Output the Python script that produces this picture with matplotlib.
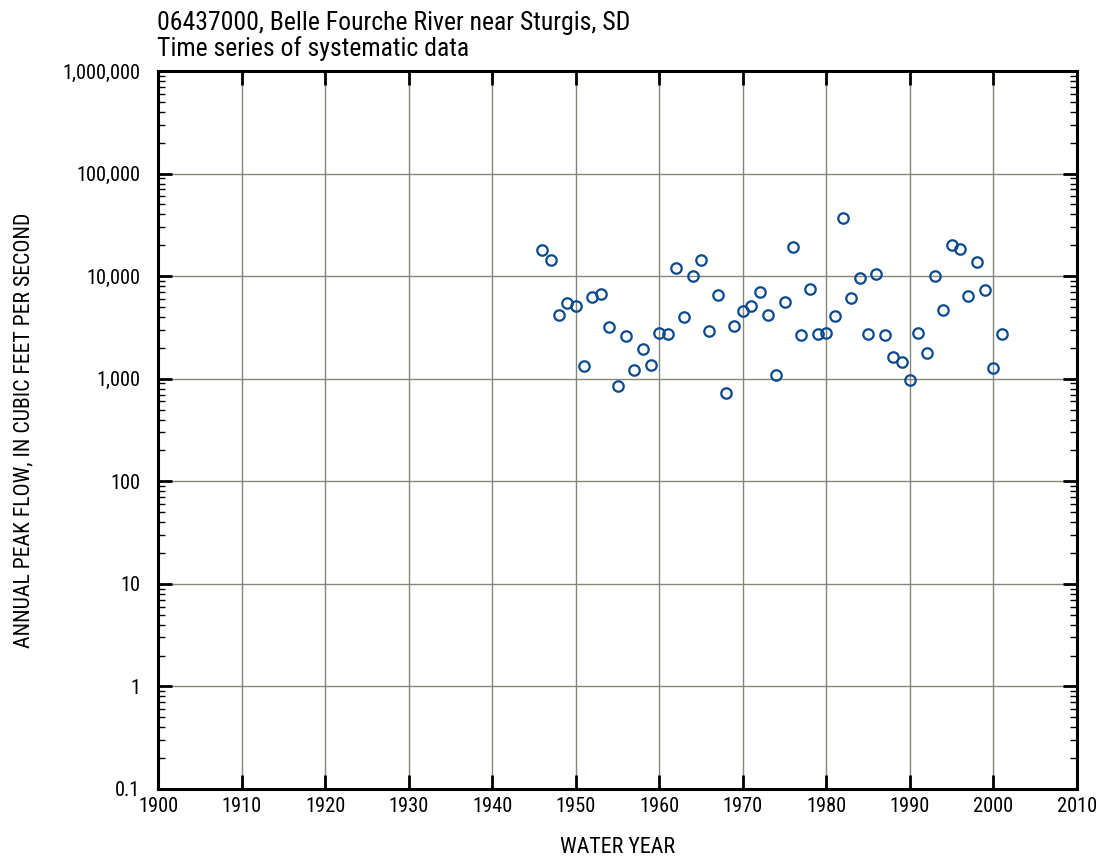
import numpy as np
import matplotlib
matplotlib.use('Agg')
import matplotlib.pyplot as plt
from matplotlib import font_manager
from matplotlib.ticker import FixedLocator, LogLocator, NullFormatter

# pick a narrow family if one is there
names = {f.name for f in font_manager.fontManager.ttflist}
fam = [n for n in ['Roboto Condensed', 'Liberation Sans Narrow', 'Roboto', 'Liberation Sans'] if n in names]
plt.rcParams['font.family'] = fam[:1] + ['DejaVu Sans']

# annual peak flow, cfs
years = list(range(1946, 2002))
peaks = [18000, 14500, 4220, 5520, 5150, 1325, 6270, 6670, 3180, 845,
         2600, 1220, 1950, 1370, 2770, 2720, 11900, 4000, 10100, 14500,
         2900, 6520, 723, 3300, 4620, 5150, 7070, 4160, 1097, 5640,
         19300, 2690, 7500, 2740, 2810, 4120, 36600, 6100, 9550, 2750,
         10430, 2680, 1620, 1470, 973, 2810, 1780, 9980, 4710, 20270,
         18400, 6460, 13750, 7400, 1265, 2750]
ytick_vals = [0.1, 1, 10, 100, 1000, 10000, 100000, 1000000]
ytick_labels = ['0.1', '1', '10', '100', '1,000', '10,000', '100,000', '1,000,000']
xtick_vals = list(range(1900, 2011, 10))

fig = plt.figure(figsize=(11.02, 8.56), dpi=100)
ax = fig.add_axes([0.1434, 0.0783, 0.8339, 0.8387])

ax.plot(years, peaks, 'o', mfc='none', mec='#0b4a8f', ms=7.5, mew=1.6, zorder=3)

ax.set_yscale('log')
ax.set_xlim(1900, 2010)
ax.set_ylim(0.1, 1e6)
ax.set_xticks(xtick_vals)
ax.set_yticks(ytick_vals)
ax.set_yticklabels(ytick_labels)
ax.yaxis.set_minor_locator(LogLocator(base=10, subs=np.arange(2, 10), numticks=20))
ax.yaxis.set_minor_formatter(NullFormatter())
ax.xaxis.set_minor_locator(FixedLocator([]))

ax.grid(True, which='major', color='#85857a', lw=1.0)
ax.set_axisbelow(True)

for s in ax.spines.values():
    s.set_linewidth(2.2)

ax.tick_params(which='major', direction='in', length=10, width=2,
               top=True, right=True, labelsize=14.7)
ax.tick_params(axis='y', which='major', pad=13)
ax.tick_params(axis='x', which='major', pad=6)
ax.tick_params(which='minor', direction='in', length=5, width=1,
               left=True, right=True)

ax.set_xlabel('WATER YEAR', fontsize=15.8, labelpad=15)
ax.set_ylabel('ANNUAL PEAK FLOW, IN CUBIC FEET PER SECOND', fontsize=15.7, labelpad=20)

fig.text(0.1425, 0.965, '06437000, Belle Fourche River near Sturgis, SD', fontsize=18.5, va='baseline')
fig.text(0.1425, 0.9346, 'Time series of systematic data', fontsize=18.5, va='baseline')

fig.savefig('out.png', dpi=100)
